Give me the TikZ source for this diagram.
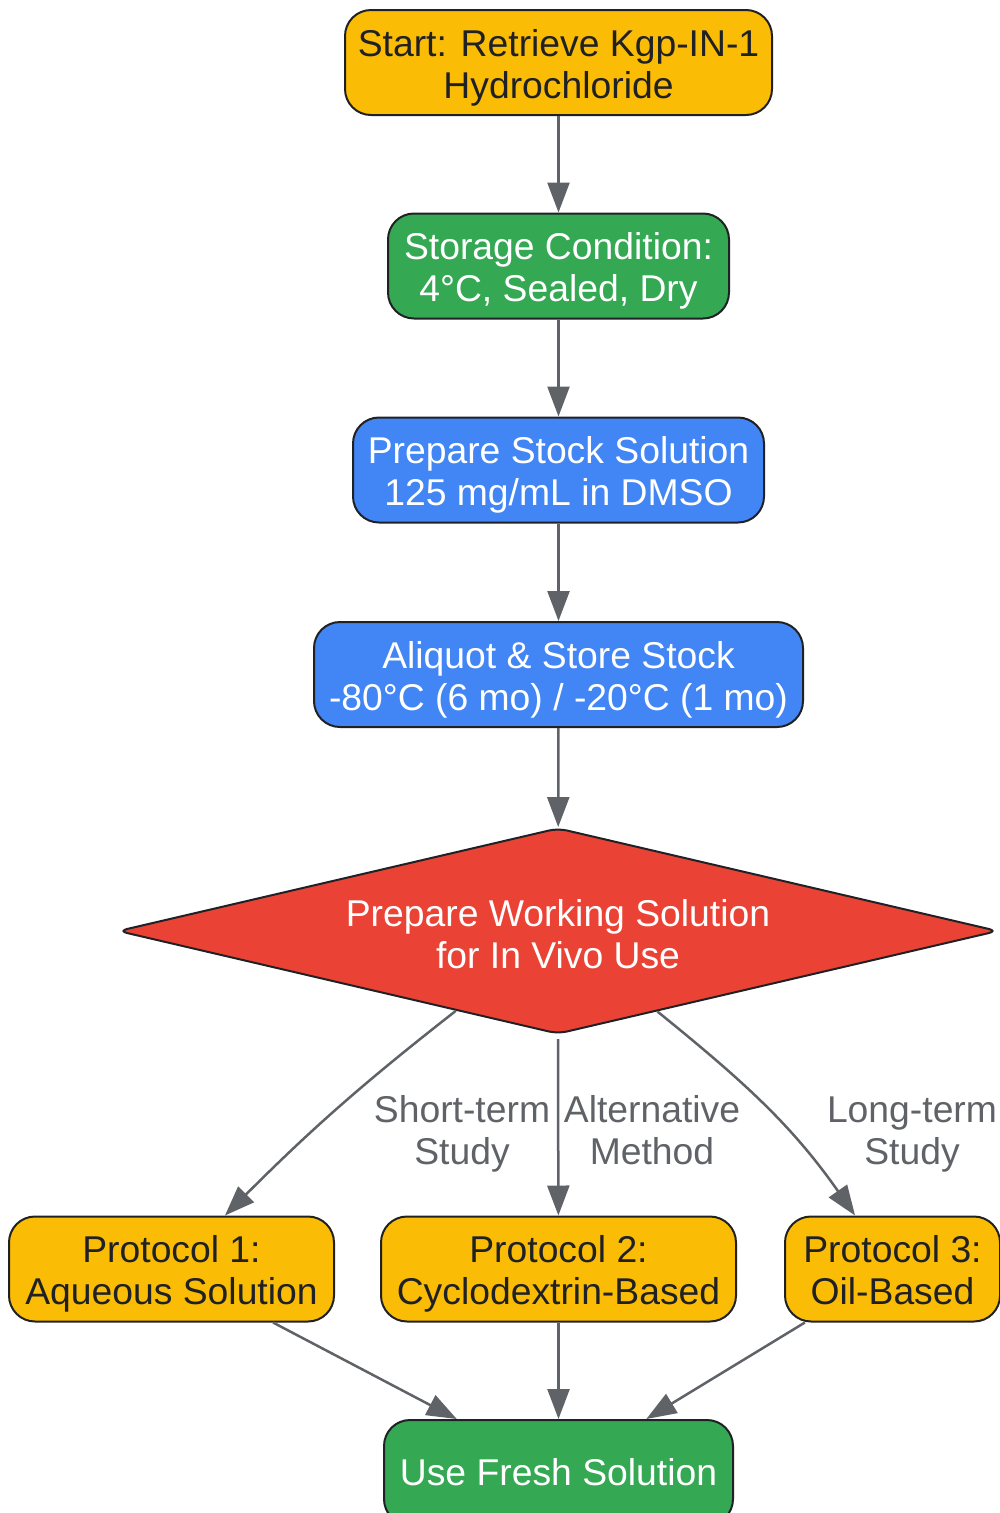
\documentclass[tikz,border=0pt]{standalone}
\usepackage{fontspec}
\setmainfont{Liberation Sans}
\usetikzlibrary{shapes.geometric,arrows.meta}
\definecolor{gyellow}{HTML}{FBBC05}
\definecolor{ggreen}{HTML}{34A853}
\definecolor{gblue}{HTML}{4285F4}
\definecolor{gred}{HTML}{EA4335}
\definecolor{bordc}{HTML}{202124}
\definecolor{edgec}{HTML}{5F6368}
\newcommand\topstr{\rule{0pt}{38pt}}
\newcommand\dtopstr{\rule{0pt}{41pt}}
\newcommand\botstr{\rule[-9pt]{0pt}{9pt}}
\tikzset{
  box/.style={draw=bordc, line width=2pt, rounded corners=26pt, inner sep=0pt,
    minimum height=105pt, align=center, font=\fontsize{37.3}{42}\selectfont},
  ylw/.style={box, fill=gyellow, text=bordc},
  grn/.style={box, fill=ggreen, text=white},
  blu/.style={box, fill=gblue, text=white},
  dec/.style={diamond, draw=bordc, line width=2pt, fill=gred, text=white, aspect=4.3,
    rounded corners=9pt, inner sep=0pt, minimum width=880pt, minimum height=206pt,
    align=center, font=\fontsize{37.3}{42}\selectfont},
  conn/.style={draw=edgec, line width=2.5pt, -{Triangle[length=30pt,width=22pt]}},
  lbl/.style={text=edgec, align=center, inner sep=0pt, font=\fontsize{37.3}{42}\selectfont}
}
\begin{document}
\begin{tikzpicture}[x=1pt,y=-1pt]
\useasboundingbox (0,0) rectangle (1000,1513);
\node[ylw, minimum width=427pt] (start) at (558.5,62.5) {\topstr Start: Retrieve Kgp-IN-1\\Hydrochloride\botstr};
\node[grn, minimum width=341pt] (store) at (558.5,266) {\topstr Storage Condition:\\4°C, Sealed, Dry\botstr};
\node[blu, minimum width=411pt] (stock) at (558.5,470) {\topstr Prepare Stock Solution\\125 mg/mL in DMSO\botstr};
\node[blu, minimum width=489pt] (aliq) at (558.5,674.5) {\topstr Aliquot \& Store Stock\\-80°C (6 mo) / -20°C (1 mo)\botstr};
\node[dec] (work) at (558,931) {\dtopstr Prepare Working Solution\\for In Vivo Use\botstr};
\node[ylw, minimum width=325pt] (p1) at (171.5,1269) {\topstr Protocol 1:\\Aqueous Solution\botstr};
\node[ylw, minimum width=355pt] (p2) at (558.5,1269) {\topstr Protocol 2:\\Cyclodextrin-Based\botstr};
\node[ylw, minimum width=215pt] (p3) at (892.5,1269) {\topstr Protocol 3:\\Oil-Based\botstr};
\node[grn, minimum width=349pt] (use) at (558.5,1472.5) {Use Fresh Solution};

\draw[conn] (start) -- (store);
\draw[conn] (store) -- (stock);
\draw[conn] (stock) -- (aliq);
\draw[conn] (aliq) -- (work);
\draw[conn] (work) to[out=218,in=45] (p1);
\draw[conn] (work.south) ++(0,4) -- (p2);
\draw[conn] (work) to[out=-39,in=125] (p3);
\draw[conn] (p1) -- (use);
\draw[conn] (p2) -- (use);
\draw[conn] (p3) -- (use);

\node[lbl] (l1) at (462,1129) {\topstr Short-term\\Study\botstr};
\node[lbl] (l2) at (652,1129) {\topstr Alternative\\Method\botstr};
\node[lbl] (l3) at (912,1129) {\topstr Long-term\\Study\botstr};
\end{tikzpicture}
\end{document}
